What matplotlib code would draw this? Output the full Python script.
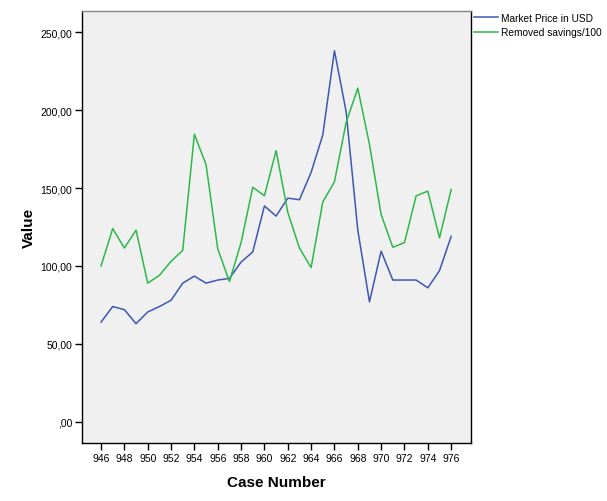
import matplotlib
matplotlib.use('Agg')
import matplotlib.pyplot as plt
from matplotlib.ticker import FuncFormatter
import numpy as np

plt.rcParams['font.family'] = ['Liberation Sans', 'DejaVu Sans']

# Numero do caso (eixo x)
casos = list(range(946, 977))

# Valores
preco_mercado = [64, 74, 72, 63, 70.5, 74, 78, 89, 93.5, 89, 91, 92, 102.5, 109,
                 138.5, 132, 143.5, 142.5, 160, 184, 238, 199, 123, 77, 109.5,
                 91, 91, 91, 86, 97, 119]
poupanca_removida = [100, 124, 111.5, 123, 89, 94, 103, 110, 184.5, 165, 111, 90,
                     115, 150.5, 145, 174, 134.5, 111.5, 99, 141, 154, 192, 214,
                     178, 133, 112, 115, 145, 148, 118, 149]

rotulos_series = ['Market Price in USD', 'Removed savings/100']
cor_azul = '#3d58b0'
cor_verde = '#2db84a'

fig = plt.figure(figsize=(6.07, 5.02), dpi=100)
ax = fig.add_axes([82 / 607, 1 - 444 / 502, (471 - 82) / 607, (444 - 12) / 502])
ax.set_facecolor('#f0f0f0')

ax.plot(casos, preco_mercado, color=cor_azul, lw=1.1, label=rotulos_series[0])
ax.plot(casos, poupanca_removida, color=cor_verde, lw=1.1, label=rotulos_series[1])

ax.set_xlim(944.37, 977.7)
ax.set_ylim(-13.5, 263.5)
ax.set_xticks(np.arange(946, 977, 2))
ax.set_yticks([0, 50, 100, 150, 200, 250])


def formato_virgula(v, pos):
    if v == 0:
        return ',00'
    return ('%.2f' % v).replace('.', ',')


ax.yaxis.set_major_formatter(FuncFormatter(formato_virgula))
ax.tick_params(direction='out', length=5, width=1, colors='black', labelsize=7.5, pad=2)

for lado in ['left', 'bottom', 'right']:
    ax.spines[lado].set_color('black')
    ax.spines[lado].set_linewidth(1)
ax.spines['top'].set_color('#888888')
ax.spines['top'].set_linewidth(1)

ax.set_xlabel('Case Number', fontsize=11, fontweight='bold', labelpad=9)
ax.set_ylabel('Value', fontsize=11, fontweight='bold', labelpad=3)

# Legenda fora do grafico, no canto superior direito
ax.legend(loc='upper left', bbox_to_anchor=(1.0 + 1 / 389, 1.0), frameon=False,
          fontsize=7.3, handlelength=2.4, handletextpad=0.25, labelspacing=0.4,
          borderaxespad=0.0, borderpad=0.2)

fig.savefig('out.png', dpi=100)
